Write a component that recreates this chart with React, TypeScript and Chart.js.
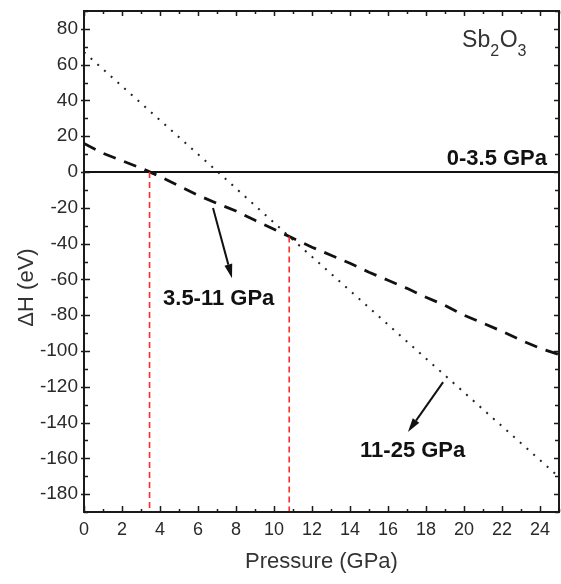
import React, { useEffect, useRef } from "react";
import { Chart, registerables } from "chart.js";

Chart.register(...registerables);

// ---- data ----
const PRESSURE = [0, 1, 2, 3, 4, 5, 6, 7, 8, 9, 10, 11, 12, 13, 14, 15, 16, 17, 18, 19, 20, 21, 22, 23, 24, 25];
const DH_3P5_11 = [16, 10.5, 6.3, 2.2, -2.5, -7.7, -13, -17.5, -21.8, -27, -32, -37, -42, -46.5, -51, -56, -60.5, -65, -70, -74.5, -80, -84.5, -89, -94, -98.5, -102];

const P_11_25 = [0, 7.05, 10.8, 25];
const DH_11_25 = [67, 0, -36, -170.5];

const P_0_3P5 = [0, 25];
const DH_0_3P5 = [0, 0];

const TRANSITION_P = [3.45, 10.8];
const TRANSITION_DH = [0, -36];

const X_TICKS = [0, 2, 4, 6, 8, 10, 12, 14, 16, 18, 20, 22, 24];
const Y_TICKS = [-180, -160, -140, -120, -100, -80, -60, -40, -20, 0, 20, 40, 60, 80];

const X_MIN = 0;
const X_MAX = 25;
const Y_MIN = -190;
const Y_MAX = 90;
const X_MINOR_STEP = 1;
const Y_MINOR_STEP = 10;

const LABEL_0_3P5 = "0-3.5 GPa";
const LABEL_3P5_11 = "3.5-11 GPa";
const LABEL_11_25 = "11-25 GPa";
const X_TITLE = "Pressure (GPa)";
const Y_TITLE = "ΔH (eV)";

// annotation anchors in data units
const ANN_0_3P5 = { x: 24.37, y: 3.9 };
const ANN_3P5_11 = { x: 4.16, y: -74.3 };
const ANN_11_25 = { x: 14.53, y: -159.3 };
const ANN_FORMULA = { x: 19.9, y: 69.9 };
const ARROW_1 = { x1: 6.79, y1: -20.1, x2: 7.79, y2: -59.3 };
const ARROW_2 = { x1: 18.9, y1: -117.4, x2: 17.05, y2: -145.3 };

const FONT = "'Liberation Sans', Arial, Helvetica, sans-serif";
const TEXT_COLOR = "#2a2a2a";

const toXY = (xs: number[], ys: number[]) => xs.map((x, i) => ({ x, y: ys[i] }));

const decorPlugin = {
  id: "decor",
  afterDraw(chart: any) {
    const { ctx, chartArea, scales } = chart;
    const xs = scales.x;
    const ys = scales.y;
    const { left, right, top, bottom } = chartArea;
    ctx.save();

    // frame
    ctx.strokeStyle = "#1a1a1a";
    ctx.lineWidth = 2;
    ctx.setLineDash([]);
    ctx.strokeRect(left, top, right - left, bottom - top);

    // ticks
    ctx.lineWidth = 1.5;
    for (let v = X_MIN; v <= X_MAX; v += X_MINOR_STEP) {
      const px = Math.round(xs.getPixelForValue(v)) + 0.5;
      const major = X_TICKS.includes(v);
      ctx.beginPath();
      ctx.moveTo(px, bottom);
      ctx.lineTo(px, bottom - (major ? 6 : 3));
      ctx.moveTo(px, top);
      ctx.lineTo(px, top + (major ? 5 : 3));
      ctx.stroke();
    }
    for (let v = Y_MIN; v <= Y_MAX; v += Y_MINOR_STEP) {
      const py = Math.round(ys.getPixelForValue(v)) + 0.5;
      const major = Y_TICKS.includes(v);
      ctx.beginPath();
      if (major) {
        ctx.moveTo(left - 3, py);
        ctx.lineTo(left + 6, py);
      } else {
        ctx.moveTo(left, py);
        ctx.lineTo(left + 4, py);
      }
      ctx.moveTo(right, py);
      ctx.lineTo(right - (major ? 5 : 4), py);
      ctx.stroke();
    }

    // axis titles
    ctx.fillStyle = "#333";
    ctx.font = `22px ${FONT}`;
    ctx.textAlign = "center";
    ctx.textBaseline = "middle";
    ctx.fillText(X_TITLE, (left + right) / 2, bottom + 50);
    ctx.save();
    ctx.translate(left - 57, (top + bottom) / 2 + 26);
    ctx.rotate(-Math.PI / 2);
    ctx.fillText(Y_TITLE, 0, 0);
    ctx.restore();

    // phase labels
    ctx.fillStyle = "#111";
    ctx.font = `bold 22px ${FONT}`;
    ctx.textBaseline = "alphabetic";
    ctx.textAlign = "right";
    ctx.fillText(LABEL_0_3P5, xs.getPixelForValue(ANN_0_3P5.x), ys.getPixelForValue(ANN_0_3P5.y));
    ctx.textAlign = "left";
    ctx.fillText(LABEL_3P5_11, xs.getPixelForValue(ANN_3P5_11.x), ys.getPixelForValue(ANN_3P5_11.y));
    ctx.fillText(LABEL_11_25, xs.getPixelForValue(ANN_11_25.x), ys.getPixelForValue(ANN_11_25.y));

    // formula Sb2O3
    ctx.fillStyle = "#333";
    let fx = xs.getPixelForValue(ANN_FORMULA.x);
    const fy = ys.getPixelForValue(ANN_FORMULA.y);
    const parts: [string, boolean][] = [["Sb", false], ["2", true], ["O", false], ["3", true]];
    for (const [t, sub] of parts) {
      ctx.font = sub ? `16px ${FONT}` : `23px ${FONT}`;
      ctx.fillText(t, fx, sub ? fy + 9 : fy);
      fx += ctx.measureText(t).width + (sub ? 0.5 : 0);
    }

    // arrows
    const drawArrow = (a: { x1: number; y1: number; x2: number; y2: number }) => {
      const x1 = xs.getPixelForValue(a.x1);
      const y1 = ys.getPixelForValue(a.y1);
      const x2 = xs.getPixelForValue(a.x2);
      const y2 = ys.getPixelForValue(a.y2);
      const ang = Math.atan2(y2 - y1, x2 - x1);
      const hl = 14;
      const hw = 4;
      const bx = x2 - hl * Math.cos(ang);
      const by = y2 - hl * Math.sin(ang);
      ctx.strokeStyle = "#111";
      ctx.fillStyle = "#111";
      ctx.lineWidth = 2;
      ctx.beginPath();
      ctx.moveTo(x1, y1);
      ctx.lineTo(bx, by);
      ctx.stroke();
      ctx.beginPath();
      ctx.moveTo(x2, y2);
      ctx.lineTo(bx + hw * Math.sin(ang), by - hw * Math.cos(ang));
      ctx.lineTo(bx - hw * Math.sin(ang), by + hw * Math.cos(ang));
      ctx.closePath();
      ctx.fill();
    };
    drawArrow(ARROW_1);
    drawArrow(ARROW_2);

    ctx.restore();
  },
};

export default function App() {
  const canvasRef = useRef<HTMLCanvasElement | null>(null);

  useEffect(() => {
    const canvas = canvasRef.current;
    if (!canvas) return;

    const redLine = (i: number) => ({
      data: [
        { x: TRANSITION_P[i], y: TRANSITION_DH[i] },
        { x: TRANSITION_P[i], y: Y_MIN },
      ],
      borderColor: "#ff2b2b",
      borderWidth: 1.6,
      borderDash: [6, 4],
      pointRadius: 0,
      showLine: true,
      fill: false,
    });

    const chart = new Chart(canvas, {
      type: "scatter",
      data: {
        datasets: [
          redLine(0),
          redLine(1),
          {
            label: LABEL_0_3P5,
            data: toXY(P_0_3P5, DH_0_3P5),
            borderColor: "#111",
            borderWidth: 2,
            pointRadius: 0,
            showLine: true,
          },
          {
            label: LABEL_11_25,
            data: toXY(P_11_25, DH_11_25),
            borderColor: "#222",
            borderWidth: 2,
            borderDash: [2, 7],
            pointRadius: 0,
            showLine: true,
          },
          {
            label: LABEL_3P5_11,
            data: toXY(PRESSURE, DH_3P5_11),
            borderColor: "#111",
            borderWidth: 2.8,
            borderDash: [13, 9],
            pointRadius: 0,
            showLine: true,
          },
        ],
      },
      options: {
        responsive: false,
        animation: false,
        events: [],
        layout: { padding: { top: 11, right: 2, left: 0, bottom: 0 } },
        plugins: {
          legend: { display: false },
          tooltip: { enabled: false },
          title: { display: false },
        },
        scales: {
          x: {
            type: "linear",
            min: X_MIN,
            max: X_MAX,
            grid: { display: false, drawTicks: false },
            border: { display: false },
            ticks: {
              autoSkip: false,
              maxRotation: 0,
              padding: 7,
              color: TEXT_COLOR,
              font: { family: FONT, size: 18 },
            },
            afterBuildTicks: (scale: any) => {
              scale.ticks = X_TICKS.map((v) => ({ value: v }));
            },
            afterFit: (scale: any) => {
              scale.height = 72;
              scale.paddingLeft = 0;
              scale.paddingRight = 0;
            },
          },
          y: {
            type: "linear",
            min: Y_MIN,
            max: Y_MAX,
            grid: { display: false, drawTicks: false },
            border: { display: false },
            ticks: {
              autoSkip: false,
              padding: 6,
              color: TEXT_COLOR,
              font: { family: FONT, size: 19 },
            },
            afterBuildTicks: (scale: any) => {
              scale.ticks = Y_TICKS.map((v) => ({ value: v }));
            },
            afterFit: (scale: any) => {
              scale.width = 84;
              scale.paddingTop = 0;
              scale.paddingBottom = 0;
            },
          },
        },
      },
      plugins: [decorPlugin],
    });

    return () => chart.destroy();
  }, []);

  return (
    <div style={{ position: "fixed", left: 0, top: 0, width: 561, height: 584, background: "#fff" }}>
      <canvas ref={canvasRef} width={561} height={584} style={{ display: "block" }} />
    </div>
  );
}
